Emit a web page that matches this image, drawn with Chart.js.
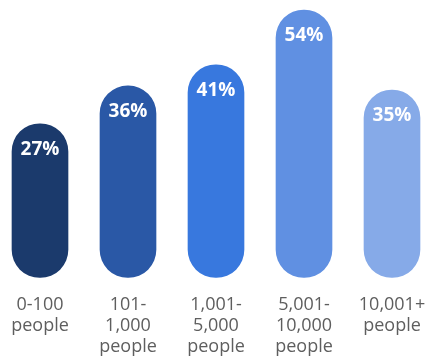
<!DOCTYPE html>
<html>
<head>
<meta charset="utf-8">
<script src="https://cdn.jsdelivr.net/npm/chart.js@4/dist/chart.umd.min.js"></script>
<style>
html,body{margin:0;padding:0;background:#fff;}
#wrap{position:relative;width:426px;height:362px;}
</style>
</head>
<body>
<div id="wrap"><canvas id="c"></canvas></div>
<script>
const categories = [
  ['0-100', 'people'],
  ['101-', '1,000', 'people'],
  ['1,001-', '5,000', 'people'],
  ['5,001-', '10,000', 'people'],
  ['10,001+', 'people']
];
const values = [27, 36, 41, 54, 35];
const valueLabels = ['27%', '36%', '41%', '54%', '35%'];
const barColors = ['#1b3a6c', '#2a58a6', '#3878de', '#6090e2', '#86aae8'];

const valueLabelPlugin = {
  id: 'valueLabels',
  afterDatasetsDraw(chart) {
    const ctx = chart.ctx;
    const meta = chart.getDatasetMeta(0);
    ctx.save();
    ctx.fillStyle = '#ffffff';
    ctx.font = 'bold 19px "Open Sans", sans-serif';
    ctx.textAlign = 'center';
    ctx.textBaseline = 'middle';
    meta.data.forEach((el, i) => {
      ctx.fillText(valueLabels[i], el.x, el.y + 26);
    });
    ctx.restore();
  }
};

new Chart(document.getElementById('c'), {
  type: 'bar',
  data: {
    labels: categories,
    datasets: [{
      data: values,
      backgroundColor: barColors,
      borderWidth: 0,
      borderRadius: 28,
      borderSkipped: false,
      barThickness: 56,
      base: -9.5,
      clip: false
    }]
  },
  options: {
    responsive: true,
    maintainAspectRatio: false,
    animation: false,
    layout: { padding: { left: 40, right: 34, top: 10, bottom: 0 } },
    plugins: { legend: { display: false }, tooltip: { enabled: false } },
    scales: {
      x: {
        offset: false,
        grid: { display: false, drawTicks: false },
        border: { display: false },
        ticks: {
          color: '#5e5e5e',
          font: { family: '"Open Sans", sans-serif', size: 18, lineHeight: 1.17 },
          padding: 17,
          maxRotation: 0,
          autoSkip: false
        },
        afterFit(scale) {
          scale.height = 84.5;
          scale.paddingLeft = 0;
          scale.paddingRight = 0;
        }
      },
      y: {
        display: false,
        min: -9.5,
        max: 54
      }
    }
  },
  plugins: [valueLabelPlugin]
});
</script>
</body>
</html>
